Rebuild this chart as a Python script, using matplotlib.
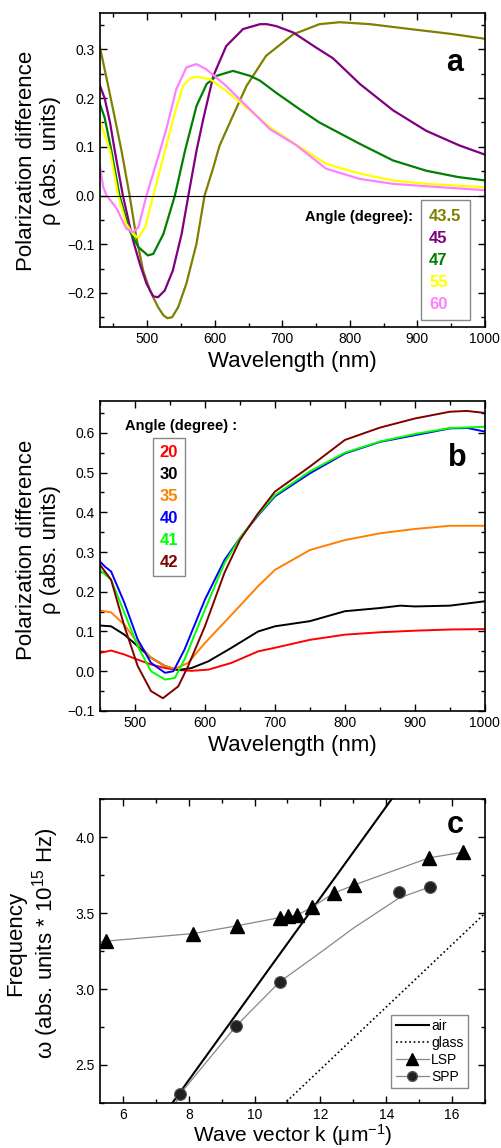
import matplotlib
matplotlib.use("Agg")
import matplotlib.pyplot as plt
from matplotlib.ticker import MultipleLocator

plt.rcParams['font.family'] = ['Liberation Sans', 'DejaVu Sans']
plt.rcParams['mathtext.fontset'] = 'custom'
plt.rcParams['mathtext.rm'] = 'Liberation Sans'
plt.rcParams['mathtext.it'] = 'Liberation Sans:italic'

# ---- panel a : polarization difference vs wavelength ----
angles_a = ['43.5', '45', '47', '55', '60']
colors_a = ['#808000', '#800080', '#008000', '#ffff00', '#ff80ff']

wl_435 = [430, 440, 452, 462, 474, 484, 494, 504, 516, 524, 530, 537, 546, 558, 573, 585,
          598, 607, 627, 647, 676, 716, 755, 785, 830, 889, 950, 1000]
rho_435 = [0.305, 0.24, 0.16, 0.092, 0.0, -0.086, -0.154, -0.195, -0.229, -0.246, -0.252,
           -0.25, -0.229, -0.181, -0.099, 0.0, 0.058, 0.102, 0.164, 0.225, 0.287, 0.331,
           0.352, 0.356, 0.352, 0.342, 0.332, 0.322]

wl_45 = [430, 437, 445, 452, 464, 479, 489, 499, 509, 516, 526, 538, 551, 561, 573, 583,
         598, 617, 642, 667, 677, 691, 716, 750, 775, 815, 864, 913, 962, 1000]
rho_45 = [0.226, 0.2, 0.15, 0.092, 0.0, -0.092, -0.14, -0.181, -0.207, -0.209, -0.195,
          -0.154, -0.079, 0.0, 0.092, 0.157, 0.246, 0.307, 0.342, 0.352, 0.352, 0.348,
          0.335, 0.304, 0.282, 0.229, 0.175, 0.133, 0.103, 0.084]

wl_47 = [430, 437, 447, 459, 474, 487, 501, 509, 524, 541, 556, 573, 588, 603, 627, 652,
         667, 691, 726, 755, 815, 864, 913, 960, 1000]
rho_47 = [0.188, 0.16, 0.092, 0.0, -0.072, -0.106, -0.123, -0.12, -0.079, 0.0, 0.092,
          0.184, 0.229, 0.246, 0.256, 0.246, 0.236, 0.211, 0.177, 0.15, 0.106, 0.072,
          0.051, 0.038, 0.031]

wl_55 = [430, 437, 445, 457, 469, 479, 487, 497, 509, 526, 540, 553, 563, 573, 593, 617,
         647, 682, 720, 765, 815, 864, 913, 1000]
rho_55 = [0.154, 0.125, 0.092, 0.0, -0.058, -0.079, -0.087, -0.065, 0.0, 0.09, 0.165,
          0.225, 0.24, 0.244, 0.239, 0.215, 0.181, 0.14, 0.105, 0.065, 0.045, 0.031,
          0.024, 0.017]

wl_60 = [430, 435, 440, 455, 469, 479, 487, 499, 519, 529, 543, 558, 573, 588, 617, 647,
         682, 720, 765, 815, 864, 913, 1000]
rho_60 = [0.06, 0.017, 0.0, -0.027, -0.068, -0.075, -0.065, 0.0, 0.092, 0.14, 0.218,
          0.263, 0.27, 0.259, 0.225, 0.184, 0.136, 0.104, 0.055, 0.034, 0.024, 0.019, 0.011]

# ---- panel b ----
angles_b = ['20', '30', '35', '40', '41', '42']
colors_b = ['#ff0000', '#000000', '#ff8000', '#0000ff', '#00ff00', '#800000']

wl_20 = [450, 466, 485, 504, 523, 543, 562, 581, 605, 638, 676, 700, 750, 800, 850, 900, 950, 1000]
rho_20 = [0.046, 0.052, 0.042, 0.029, 0.017, 0.008, 0.003, 0.001, 0.004, 0.021, 0.05, 0.059,
          0.079, 0.092, 0.098, 0.102, 0.105, 0.106]

wl_30 = [450, 466, 485, 504, 523, 543, 562, 581, 605, 638, 676, 700, 750, 800, 850, 879, 900,
         950, 1000]
rho_30 = [0.115, 0.113, 0.092, 0.063, 0.034, 0.013, 0.003, 0.008, 0.025, 0.059, 0.1, 0.113,
          0.126, 0.151, 0.159, 0.165, 0.163, 0.165, 0.176]

wl_35 = [450, 466, 485, 504, 523, 543, 557, 576, 600, 638, 676, 700, 750, 800, 850, 900, 950, 1000]
rho_35 = [0.153, 0.148, 0.117, 0.071, 0.034, 0.013, 0.006, 0.021, 0.071, 0.142, 0.214, 0.255,
          0.305, 0.33, 0.347, 0.358, 0.366, 0.366]

wl_40 = [450, 458, 466, 485, 504, 523, 543, 555, 571, 600, 628, 650, 675, 700, 750, 800, 850,
         900, 950, 975, 1000]
rho_40 = [0.276, 0.262, 0.251, 0.172, 0.08, 0.021, -0.004, 0.0, 0.055, 0.18, 0.28, 0.335,
          0.39, 0.44, 0.498, 0.548, 0.577, 0.594, 0.611, 0.612, 0.603]

wl_41 = [450, 466, 485, 504, 523, 543, 557, 571, 600, 628, 650, 675, 700, 750, 800, 850, 900,
         950, 1000]
rho_41 = [0.255, 0.23, 0.147, 0.063, 0.0, -0.021, -0.017, 0.03, 0.155, 0.272, 0.335, 0.392,
          0.443, 0.503, 0.55, 0.578, 0.597, 0.612, 0.615]

wl_42 = [450, 466, 485, 504, 523, 540, 562, 576, 600, 628, 650, 675, 700, 750, 800, 850, 900,
         950, 974, 1000]
rho_42 = [0.268, 0.23, 0.113, 0.013, -0.05, -0.068, -0.038, 0.013, 0.113, 0.248, 0.33, 0.395,
          0.452, 0.515, 0.582, 0.613, 0.636, 0.653, 0.655, 0.65]

# ---- panel c : dispersion ----
lsp_k = [5.49, 8.14, 9.47, 10.77, 11.02, 11.29, 11.76, 12.4, 13.01, 15.29, 16.32]
lsp_w = [3.315, 3.365, 3.416, 3.47, 3.478, 3.485, 3.54, 3.63, 3.683, 3.862, 3.9]
lsp_line_k = [5.3] + lsp_k
lsp_line_w = [3.31] + lsp_w

spp_k = [7.74, 9.44, 10.77, 14.4, 15.34]
spp_w = [2.31, 2.757, 3.048, 3.64, 3.672]
spp_line_k = [7.6, 7.74, 9.44, 10.77, 12.0, 13.0, 14.4, 15.34]
spp_line_w = [2.25, 2.31, 2.757, 3.048, 3.24, 3.4, 3.6, 3.672]

air_k = [7.0, 15.0]
air_w = [2.1, 4.5]
glass_k = [10.0, 17.5]
glass_w = [2.06, 3.6]

fig = plt.figure(figsize=(5.02, 11.48), dpi=100)
ax_a = fig.add_axes([0.199, 0.7152, 0.767, 0.2735])
ax_b = fig.add_axes([0.199, 0.3807, 0.767, 0.2700])
ax_c = fig.add_axes([0.199, 0.0392, 0.767, 0.2648])

for ax in (ax_a, ax_b, ax_c):
    ax.tick_params(which='both', direction='in', top=True, right=True, labelsize=10)
    ax.tick_params(which='major', length=5, width=1)
    ax.tick_params(which='minor', length=3, width=1)
    for s in ax.spines.values():
        s.set_linewidth(1.2)

# panel a
curves_a = [(wl_435, rho_435), (wl_45, rho_45), (wl_47, rho_47), (wl_55, rho_55), (wl_60, rho_60)]
for (x, y), c, lab in zip(curves_a, colors_a, angles_a):
    ax_a.plot(x, y, color=c, lw=1.6, label=lab)
ax_a.axhline(0, color='black', lw=0.8)
ax_a.set_xlim(430, 1000)
ax_a.set_ylim(-0.27, 0.375)
ax_a.xaxis.set_major_locator(MultipleLocator(100))
ax_a.xaxis.set_minor_locator(MultipleLocator(50))
ax_a.yaxis.set_major_locator(MultipleLocator(0.1))
ax_a.yaxis.set_minor_locator(MultipleLocator(0.05))
ax_a.set_xlabel('Wavelength (nm)', fontsize=16)
ax_a.set_ylabel('Polarization difference\n\u03c1 (abs. units)', fontsize=16)
ax_a.yaxis.set_label_coords(-0.1, 0.53)
ax_a.text(0.922, 0.84, 'a', transform=ax_a.transAxes, fontsize=22, fontweight='bold',
          ha='center', va='center')
ax_a.text(0.813, 0.35, 'Angle (degree):', transform=ax_a.transAxes, fontsize=10.5,
          fontweight='bold', ha='right', va='center')
leg = ax_a.legend(loc='lower right', bbox_to_anchor=(0.961, 0.022), handlelength=0,
                  handletextpad=0, labelcolor='linecolor', fancybox=False, framealpha=1,
                  edgecolor='#888888', prop={'weight': 'bold', 'size': 12},
                  labelspacing=0.42, borderpad=0.5, borderaxespad=0)
leg.get_frame().set_linewidth(1)

# panel b
curves_b = [(wl_20, rho_20), (wl_30, rho_30), (wl_35, rho_35), (wl_40, rho_40),
            (wl_41, rho_41), (wl_42, rho_42)]
for (x, y), c, lab in zip(curves_b, colors_b, angles_b):
    ax_b.plot(x, y, color=c, lw=1.4, label=lab)
ax_b.set_xlim(450, 1000)
ax_b.set_ylim(-0.1, 0.68)
ax_b.xaxis.set_major_locator(MultipleLocator(100))
ax_b.xaxis.set_minor_locator(MultipleLocator(50))
ax_b.yaxis.set_major_locator(MultipleLocator(0.1))
ax_b.yaxis.set_minor_locator(MultipleLocator(0.05))
ax_b.set_xlabel('Wavelength (nm)', fontsize=16)
ax_b.set_ylabel('Polarization difference\n\u03c1 (abs. units)', fontsize=16)
ax_b.yaxis.set_label_coords(-0.1, 0.52)
ax_b.text(0.927, 0.816, 'b', transform=ax_b.transAxes, fontsize=22, fontweight='bold',
          ha='center', va='center')
ax_b.text(0.065, 0.919, 'Angle (degree) :', transform=ax_b.transAxes, fontsize=10.5,
          fontweight='bold', ha='left', va='center')
leg = ax_b.legend(loc='upper left', bbox_to_anchor=(0.138, 0.881), handlelength=0,
                  handletextpad=0, labelcolor='linecolor', fancybox=False, framealpha=1,
                  edgecolor='#888888', prop={'weight': 'bold', 'size': 12},
                  labelspacing=0.42, borderpad=0.4, borderaxespad=0)
leg.get_frame().set_linewidth(1)

# panel c
ax_c.plot(air_k, air_w, color='black', lw=1.5, label='air')
ax_c.plot(glass_k, glass_w, color='black', lw=1.2, ls=':', label='glass')
ax_c.plot(lsp_line_k, lsp_line_w, color='#888888', lw=0.9)
ax_c.plot(spp_line_k, spp_line_w, color='#888888', lw=0.9)
ax_c.plot(lsp_k, lsp_w, ls='none', marker='^', ms=9.5, color='black')
ax_c.plot(spp_k, spp_w, ls='none', marker='o', ms=8.5, mfc='#202020', mec='#555555', mew=0.8)
lsp_h, = ax_c.plot([], [], color='#888888', lw=0.9, marker='^', ms=8, mfc='black',
                   mec='black', label='LSP')
spp_h, = ax_c.plot([], [], color='#888888', lw=0.9, marker='o', ms=7, mfc='#202020',
                   mec='#555555', label='SPP')
ax_c.set_xlim(5.3, 17)
ax_c.set_ylim(2.25, 4.25)
ax_c.xaxis.set_major_locator(MultipleLocator(2))
ax_c.xaxis.set_minor_locator(MultipleLocator(1))
ax_c.yaxis.set_major_locator(MultipleLocator(0.5))
ax_c.yaxis.set_minor_locator(MultipleLocator(0.25))
ax_c.set_xlabel('Wave vector k (\u03bcm$^{-1}$)', fontsize=15, labelpad=0)
ax_c.set_ylabel('Frequency\n\u03c9 (abs. units * 10$^{15}$ Hz)', fontsize=16)
ax_c.yaxis.set_label_coords(-0.1, 0.526)
ax_c.text(0.923, 0.914, 'c', transform=ax_c.transAxes, fontsize=22, fontweight='bold',
          ha='center', va='center')
leg = ax_c.legend(loc='lower right', bbox_to_anchor=(0.955, 0.05), fancybox=False,
                  framealpha=1, edgecolor='#888888', fontsize=10, handlelength=2.4,
                  handletextpad=0.15, labelspacing=0.2, borderpad=0.3, borderaxespad=0)
leg.get_frame().set_linewidth(1)

fig.savefig('out.png', dpi=100)
